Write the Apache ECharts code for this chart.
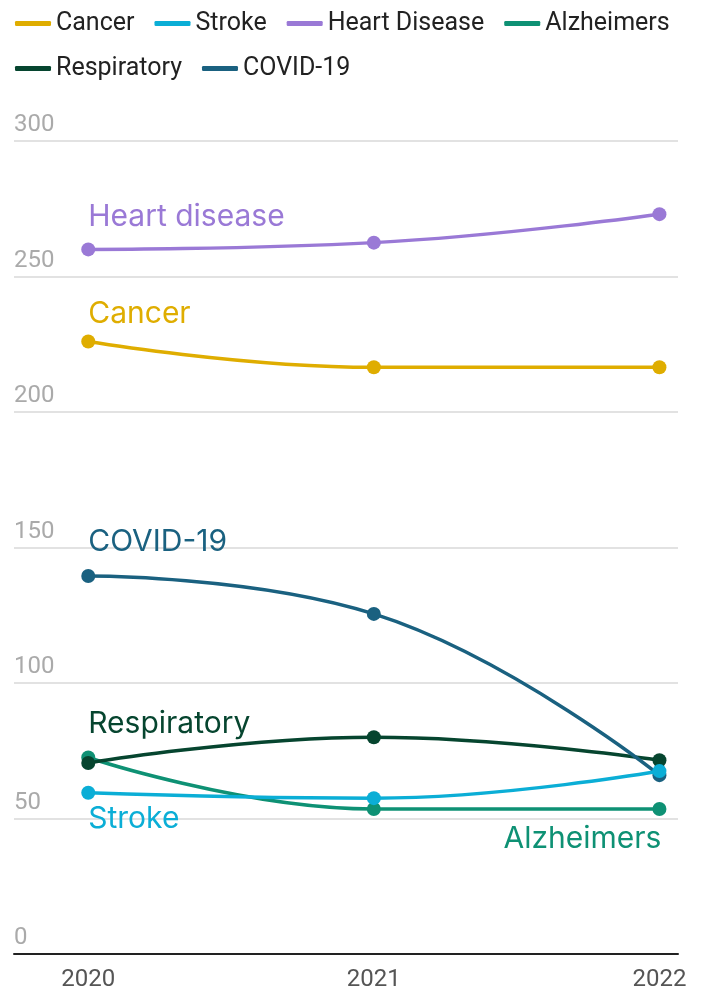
<!DOCTYPE html>
<html>
<head>
<meta charset="utf-8">
<script src="https://cdn.jsdelivr.net/npm/echarts@6/dist/echarts.min.js"></script>
<style>
  html, body { margin: 0; padding: 0; background: #fff; }
  #chart { width: 701px; height: 992px; }
</style>
</head>
<body>
<div id="chart"></div>
<script>
// 年份 / 各死因数值
var years = [2020, 2021, 2022];
var seriesNames = ["Cancer", "Stroke", "Heart Disease", "Alzheimers", "Respiratory", "COVID-19"];
var labelNames = ["Cancer", "Stroke", "Heart disease", "Alzheimers", "Respiratory", "COVID-19"];
var cancerData = [226, 216.5, 216.5];
var strokeData = [59.5, 57.5, 67.5];
var heartData = [260, 262.5, 273];
var alzheimersData = [72.5, 53.5, 53.5];
var respiratoryData = [70.5, 80, 71.5];
var covidData = [139.5, 125.5, 66];
var yTicks = [0, 50, 100, 150, 200, 250, 300];

var colors = ["#DFAD00", "#0BAED6", "#9A79D6", "#0E9174", "#06452F", "#1A6180"];
var allData = [cancerData, strokeData, heartData, alzheimersData, respiratoryData, covidData];

// 每条线的文字标签放在哪个点、偏移多少
var labelPlace = [
  { idx: 0, pos: [7, -21], align: "left" },
  { idx: 0, pos: [7, 33], align: "left" },
  { idx: 0, pos: [7, -25], align: "left" },
  { idx: 2, pos: [9, 37], align: "right" },
  { idx: 0, pos: [7, -32], align: "left" },
  { idx: 0, pos: [7, -27], align: "left" }
];

var myChart = echarts.init(document.getElementById("chart"));

var series = [];
for (var i = 0; i < seriesNames.length; i++) {
  var pts = [];
  for (var j = 0; j < years.length; j++) {
    var item = { value: [years[j], allData[i][j]] };
    if (j === labelPlace[i].idx) {
      item.label = {
        show: true,
        formatter: labelNames[i],
        position: labelPlace[i].pos,
        align: labelPlace[i].align,
        verticalAlign: "middle",
        color: colors[i],
        fontFamily: "Inter",
        fontSize: 30,
        fontWeight: 400
      };
    }
    pts.push(item);
  }
  series.push({
    name: seriesNames[i],
    type: "line",
    smooth: 0.45,
    symbol: "circle",
    symbolSize: 14,
    z: seriesNames[i] === "Stroke" ? 4 : 3,
    lineStyle: { width: 3.5, color: colors[i] },
    itemStyle: { color: colors[i] },
    emphasis: { disabled: true },
    label: { show: false },
    data: pts
  });
}

var option = {
  animation: false,
  color: colors,
  legend: {
    left: 10,
    top: 6,
    width: 690,
    icon: "roundRect",
    itemWidth: 36,
    itemHeight: 5,
    itemGap: 20,
    textStyle: { fontFamily: "Roboto", fontSize: 25, lineHeight: 22, color: "#222" },
    data: seriesNames
  },
  grid: {
    left: 14,
    right: 23,
    top: 141,
    bottom: 38
  },
  xAxis: {
    type: "value",
    min: 2019.74,
    max: 2022.065,
    splitLine: { show: false },
    axisTick: { show: false },
    axisLine: { show: true, onZero: false, lineStyle: { color: "#222", width: 2 } },
    axisLabel: {
      customValues: years,
      margin: 14,
      fontFamily: "Roboto",
      fontSize: 24,
      color: "#555",
      formatter: function (v) { return String(v); }
    }
  },
  yAxis: {
    type: "value",
    min: 0,
    max: 300,
    interval: 50,
    axisLine: { show: false },
    axisTick: { show: false },
    splitLine: { show: true, lineStyle: { color: "#e2e2e2", width: 2 } },
    axisLabel: {
      inside: true,
      margin: 0,
      verticalAlign: "bottom",
      padding: [0, 0, 4, 0],
      fontFamily: "Roboto",
      fontSize: 24,
      color: "#aaaaaa",
      customValues: yTicks,
      showMinLabel: true,
      showMaxLabel: true
    }
  },
  series: series
};

myChart.setOption(option);
window.addEventListener("resize", function () {
  if (myChart) myChart.resize();
});
</script>
</body>
</html>
